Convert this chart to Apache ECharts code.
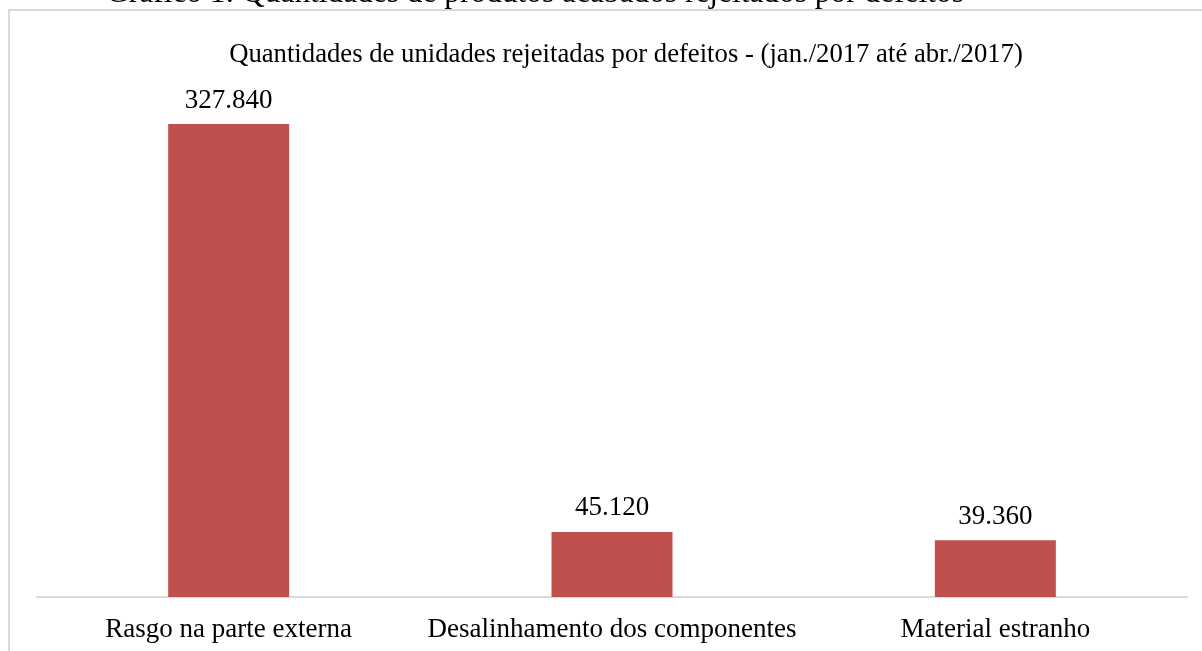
<!DOCTYPE html>
<html>
<head>
<meta charset="utf-8">
<style>
html,body{margin:0;padding:0;background:#fff;}
#chart{width:1202px;height:651px;}
</style>
<script src="https://cdn.jsdelivr.net/npm/echarts@6/dist/echarts.min.js"></script>
</head>
<body>
<div id="chart"></div>
<script>
const categories = ['Rasgo na parte externa', 'Desalinhamento dos componentes', 'Material estranho'];
const values = [327840, 45120, 39360];
const chartTitle = 'Quantidades de unidades rejeitadas por defeitos - (jan./2017 até abr./2017)';
const caption = 'Gráfico 1: Quantidades de produtos acabados rejeitados por defeitos';

function fmt(v) {
  return String(v).replace(/\B(?=(\d{3})+(?!\d))/g, '.');
}

const chart = echarts.init(document.getElementById('chart'));
const serif = '"Liberation Serif", "Times New Roman", serif';
chart.setOption({
  animation: false,
  backgroundColor: '#ffffff',
  textStyle: { fontFamily: serif },
  title: {
    text: chartTitle,
    left: 621,
    top: 36,
    textAlign: 'center',
    textStyle: { fontFamily: serif, fontSize: 26.7, fontWeight: 'normal', color: '#000' }
  },
  graphic: [
    {
      type: 'rect',
      shape: { x: 9, y: 10, width: 1300, height: 800 },
      style: { fill: 'none', stroke: '#d9d9d9', lineWidth: 2 },
      silent: true
    },
    {
      type: 'text',
      x: 535,
      y: 9,
      style: {
        text: caption,
        fontFamily: serif,
        fontSize: 31.4,
        fill: '#000',
        align: 'center',
        verticalAlign: 'bottom'
      }
    }
  ],
  grid: { left: 37, right: 15, top: 92, bottom: 54, containLabel: false },
  xAxis: {
    type: 'category',
    data: categories,
    axisLine: { lineStyle: { color: '#d9d9d9', width: 2 } },
    axisTick: { show: false },
    axisLabel: { fontFamily: serif, fontSize: 27, color: '#000', margin: 19, interval: 0 }
  },
  yAxis: {
    type: 'value',
    min: 0,
    max: 350000,
    show: false,
    splitLine: { show: false }
  },
  series: [{
    type: 'bar',
    data: values,
    barWidth: 121,
    itemStyle: { color: '#c0504d' },
    label: {
      show: true,
      position: 'top',
      distance: 10,
      fontFamily: serif,
      fontSize: 27,
      color: '#000',
      formatter: p => fmt(p.value)
    }
  }]
});
</script>
</body>
</html>
